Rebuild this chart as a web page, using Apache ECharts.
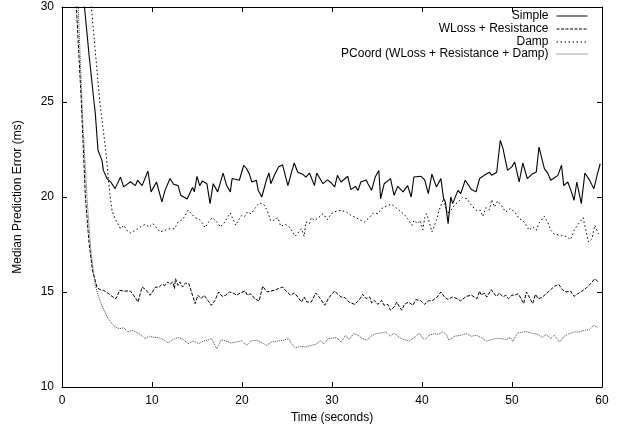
<!DOCTYPE html>
<html><head><meta charset="utf-8">
<script src="https://cdn.jsdelivr.net/npm/echarts@6/dist/echarts.min.js"></script>
<style>html,body{margin:0;padding:0;background:#fff}#c{width:621px;height:430px}</style>
</head><body><div id="c"></div>
<script>
const seriesNames = ['Simple', 'WLoss + Resistance', 'Damp', 'PCoord (WLoss + Resistance + Damp)'];
const xTicks = [0, 10, 20, 30, 40, 50, 60];
const yTicks = [10, 15, 20, 25, 30];

const simple = [[2.0,32.5],[2.5,30],[3.0,27.5],[3.56,25],[3.7,24.4],[4.0,22.46],[4.44,21.93],[4.6,21.4],[5.0,20.97],[5.4,20.8],[5.9,20.44],[6.5,21.05],[6.85,20.53],[7.6,20.8],[8.15,20.6],[8.4,20.88],[8.9,20.6],[9.55,21.37],[9.9,20.27],[10.5,20.79],[11.1,19.74],[11.45,20.35],[12.0,20.97],[12.4,20.67],[12.9,20.6],[13.2,20.09],[13.9,19.9],[14.5,20.5],[14.7,20.27],[15.0,21.09],[15.3,20.6],[15.6,20.84],[16.1,20.7],[16.45,19.65],[16.8,20.7],[17.3,20.27],[17.9,21.26],[18.3,20.6],[18.7,20.27],[18.9,20.97],[19.7,20.88],[20.2,21.67],[20.5,21.5],[20.8,21.23],[21.1,20.79],[21.6,20.88],[21.8,20.35],[22.2,20.0],[22.7,20.88],[23.0,21.26],[23.2,20.7],[23.6,21.14],[24.05,21.58],[24.5,21.7],[25.1,20.6],[25.5,21.3],[25.8,21.79],[26.2,21.3],[26.75,21.2],[27.1,21.05],[27.5,21.26],[28.05,20.6],[28.3,21.26],[29.0,20.7],[29.5,20.9],[29.9,20.75],[30.3,20.53],[30.6,21.14],[31.0,20.79],[31.75,21.09],[32.1,20.39],[32.6,20.56],[32.9,20.35],[33.2,20.79],[33.8,20.9],[34.0,20.7],[34.4,20.35],[34.8,21.05],[35.2,21.4],[35.4,19.9],[35.8,20.7],[36.5,20.97],[36.9,20.09],[37.3,20.56],[37.9,20.27],[38.4,20.6],[38.8,20.0],[39.1,21.05],[39.9,21.09],[40.3,20.9],[40.7,20.18],[41.1,21.2],[41.6,20.53],[42.1,20.97],[42.4,19.9],[42.6,19.74],[42.9,18.6],[43.2,20.0],[43.4,19.65],[44.0,20.35],[44.3,20.18],[44.8,20.88],[45.5,20.39],[46.0,20.27],[46.4,20.97],[46.9,21.14],[47.5,21.3],[47.75,21.14],[48.3,21.3],[48.7,22.98],[49.0,22.55],[49.5,21.4],[50.0,21.6],[50.3,21.84],[50.8,20.79],[51.2,21.79],[51.7,20.97],[52.3,21.23],[52.7,21.32],[53.0,22.63],[53.6,21.49],[54.0,21.23],[54.3,20.88],[54.6,20.97],[55.1,21.14],[55.5,21.67],[55.75,20.6],[56.2,20.79],[56.6,20.27],[56.9,19.83],[57.2,20.79],[57.7,19.65],[58.1,21.26],[58.6,20.9],[59.1,20.44],[59.5,21.23],[59.8,21.75]];

const wloss = [[1.2,33],[1.6,30],[2.15,25],[2.6,20],[3.0,17.6],[3.4,16.1],[3.9,15.23],[4.26,15.12],[4.6,15.09],[5.2,14.91],[5.55,14.77],[6.0,14.65],[6.4,15.09],[6.85,15.05],[7.6,15.05],[7.96,14.83],[8.45,14.47],[8.9,15.26],[9.3,15.12],[9.8,14.83],[10.0,14.91],[10.4,15.26],[10.8,15.26],[11.1,15.4],[11.45,15.35],[11.75,15.53],[12.0,15.4],[12.3,15.53],[12.5,15.18],[12.6,15.7],[12.9,15.35],[13.1,15.53],[13.4,15.26],[13.7,15.47],[14.1,15.44],[14.5,14.83],[14.8,14.39],[15.1,14.83],[15.45,14.65],[15.8,14.83],[16.2,14.56],[16.6,14.3],[17.0,14.56],[17.4,15.0],[17.8,14.77],[18.2,14.83],[18.6,15.0],[19.0,14.95],[19.4,14.83],[19.8,14.95],[20.35,15.05],[20.6,14.83],[21.0,14.91],[21.4,14.65],[21.9,14.53],[22.3,15.3],[22.8,15.0],[23.2,15.05],[23.6,15.09],[24.05,15.18],[24.5,15.26],[24.9,15.05],[25.4,14.83],[25.8,14.95],[26.2,14.74],[26.6,14.47],[26.9,14.74],[27.2,14.47],[27.7,14.47],[28.2,14.95],[28.7,14.65],[29.2,14.3],[29.6,14.65],[29.9,14.85],[30.3,15.05],[30.6,14.91],[31.0,14.74],[31.45,14.7],[31.9,14.47],[32.5,14.35],[33.0,14.56],[33.4,14.88],[33.8,14.65],[34.2,14.74],[34.4,14.42],[34.7,14.56],[35.1,14.35],[35.5,14.56],[35.8,14.3],[36.2,14.35],[36.5,14.04],[36.9,14.21],[37.2,14.47],[37.5,14.21],[37.75,14.04],[38.05,14.35],[38.5,14.47],[39.0,14.3],[39.3,14.6],[39.8,14.56],[40.3,14.35],[40.7,14.53],[41.2,14.56],[41.7,14.74],[42.1,15.0],[42.5,14.74],[42.9,14.6],[43.4,14.74],[43.9,14.65],[44.3,14.53],[44.9,14.77],[45.5,14.83],[45.8,14.74],[46.1,14.65],[46.4,15.05],[46.6,14.83],[46.9,14.95],[47.2,14.74],[47.7,15.12],[48.0,14.91],[48.3,14.77],[48.6,14.95],[49.0,14.74],[49.3,14.83],[49.6,14.65],[50.0,14.83],[50.3,14.83],[50.7,14.91],[51.0,14.65],[51.3,14.39],[51.6,15.0],[51.9,14.74],[52.3,14.39],[52.6,14.88],[52.9,14.65],[53.3,14.7],[53.8,14.91],[54.3,15.12],[54.7,15.3],[55.2,15.4],[55.6,15.12],[56.0,15.0],[56.5,15.05],[56.9,14.77],[57.3,14.91],[57.9,15.09],[58.3,15.23],[58.8,15.47],[59.2,15.7],[59.6,15.53]];

const damp = [[2.8,33],[3.26,30],[4.2,25],[4.86,22.46],[5.3,20.2],[5.55,19.3],[5.9,18.86],[6.5,18.33],[6.85,18.51],[7.2,18.25],[7.6,18.11],[8.15,18.25],[8.7,18.42],[9.25,18.56],[9.7,18.42],[10.1,18.6],[10.3,18.63],[10.6,18.33],[10.9,18.16],[11.45,18.25],[12.0,18.33],[12.5,18.33],[12.9,18.69],[13.4,18.81],[13.7,19.04],[14.0,19.3],[14.3,19.16],[14.8,18.91],[15.3,18.81],[15.9,18.39],[16.3,18.69],[16.7,18.91],[17.2,18.69],[17.6,18.42],[18.1,18.69],[18.7,19.16],[18.9,19.21],[19.3,18.51],[19.7,18.86],[20.0,19.04],[20.3,18.98],[20.6,19.21],[21.0,19.12],[21.5,19.44],[21.9,19.68],[22.4,19.62],[22.8,19.3],[23.2,18.74],[23.5,18.77],[24.0,18.91],[24.3,18.46],[24.8,18.56],[25.2,18.46],[25.5,18.25],[25.9,17.93],[26.3,18.16],[26.6,18.33],[26.9,17.93],[27.1,18.69],[27.5,18.6],[27.7,18.91],[28.05,18.77],[28.5,18.91],[29.0,19.12],[29.5,18.81],[29.9,19.12],[30.5,19.26],[31.0,19.3],[31.6,19.21],[32.1,19.04],[32.7,18.91],[33.2,18.77],[33.6,18.69],[34.2,18.95],[34.6,19.16],[35.1,19.12],[35.5,19.39],[36.0,19.51],[36.6,19.62],[37.1,19.44],[37.7,19.21],[38.1,19.04],[38.4,18.86],[38.9,18.51],[39.1,18.77],[39.5,18.6],[39.8,18.77],[40.1,18.28],[40.3,18.91],[40.5,19.12],[40.7,18.86],[41.1,18.16],[41.6,18.77],[41.9,19.3],[42.4,19.91],[42.8,19.12],[43.2,19.3],[43.6,19.56],[44.0,19.74],[44.5,19.97],[45.0,19.91],[45.5,19.56],[46.0,19.3],[46.5,19.3],[46.75,18.98],[47.1,19.44],[47.5,19.33],[47.75,19.86],[48.05,19.47],[48.4,19.79],[48.8,19.56],[49.3,19.21],[49.8,19.39],[50.3,19.21],[50.8,18.86],[51.2,18.77],[51.5,18.56],[51.9,18.25],[52.3,18.42],[52.7,18.25],[53.0,18.63],[53.6,18.98],[54.0,18.63],[54.3,18.25],[54.7,18.04],[55.5,17.98],[56.0,17.93],[56.5,17.76],[56.9,18.25],[57.4,18.6],[57.9,18.91],[58.2,18.25],[58.5,17.63],[58.9,17.81],[59.2,18.51],[59.6,18.07],[59.8,18.16]];

const pcoord = [[1.4,33],[1.8,30],[2.3,24],[2.8,19.8],[3.2,17.2],[3.7,15.35],[4.07,14.74],[4.5,14.21],[5.0,13.7],[5.55,13.33],[5.9,13.16],[6.4,13.07],[6.85,13.12],[7.33,12.9],[7.8,12.98],[8.2,12.9],[8.7,12.77],[9.25,12.55],[9.7,12.67],[10.0,12.63],[10.7,12.6],[11.3,12.49],[11.8,12.32],[12.3,12.49],[12.9,12.6],[13.5,12.49],[14.0,12.28],[14.6,12.42],[15.2,12.28],[15.7,12.42],[16.3,12.49],[16.6,12.55],[17.2,12.02],[17.7,12.49],[18.2,12.42],[18.8,12.32],[19.4,12.37],[20.0,12.44],[20.5,12.19],[21.0,12.42],[21.6,12.46],[22.1,12.37],[22.7,12.19],[23.3,12.37],[24.0,12.42],[24.6,12.46],[25.2,12.55],[25.5,12.28],[25.9,12.07],[26.5,12.14],[27.1,12.11],[27.7,12.19],[28.2,12.25],[28.7,12.42],[29.1,12.28],[29.6,12.55],[30.0,12.57],[30.5,12.6],[31.0,12.37],[31.5,12.72],[31.9,12.49],[32.4,12.81],[32.9,12.72],[33.4,12.55],[33.9,12.46],[34.3,12.67],[34.9,12.81],[35.5,12.84],[36.0,12.9],[36.5,12.67],[36.9,12.84],[37.5,12.6],[38.0,12.49],[38.6,12.42],[39.2,12.63],[39.7,12.84],[40.0,12.6],[40.3,12.49],[40.8,12.72],[41.4,12.81],[41.8,12.77],[42.3,12.9],[42.7,12.77],[43.0,12.46],[43.6,12.67],[44.3,12.72],[44.9,12.81],[45.5,12.67],[46.0,12.72],[46.6,12.6],[47.1,12.42],[47.7,12.49],[48.2,12.55],[48.8,12.55],[49.3,12.49],[49.8,12.6],[50.1,12.4],[50.6,12.84],[51.2,12.9],[51.75,12.9],[52.3,12.81],[52.9,12.77],[53.3,12.6],[53.8,12.77],[54.3,12.55],[54.7,12.72],[55.3,12.37],[55.8,12.67],[56.4,12.81],[56.9,12.9],[57.5,12.9],[58.0,12.98],[58.6,13.02],[59.1,13.25],[59.5,13.12]];

const FONT = 'Liberation Sans, Arial, Helvetica, sans-serif';
const chart = echarts.init(document.getElementById('c'), null, {renderer: 'canvas'});

const xMin = xTicks[0], xMax = xTicks[xTicks.length - 1], xStep = xTicks[1] - xTicks[0];
const yMin = yTicks[0], yMax = yTicks[yTicks.length - 1], yStep = yTicks[1] - yTicks[0];

function axisBase(showLabel) {
  return {
    axisLine: {show: true, onZero: false, lineStyle: {color: '#000', width: 1}},
    axisTick: {show: true, inside: true, length: 5, lineStyle: {color: '#000', width: 1}},
    splitLine: {show: false},
    axisLabel: {show: showLabel, color: '#000', fontFamily: FONT, fontSize: 12, margin: 8}
  };
}

const styles = [
  {color: '#000', width: 1.1, type: 'solid'},
  {color: '#000', width: 1, type: [3.5, 1.5]},
  {color: '#000', width: 1, type: [1.5, 2.5]},
  {color: '#444', width: 1, type: [1, 1]}
];
const legendDash = ['solid', [3, 1.5], [1.5, 2.5], [1, 1]];
const datas = [simple, wloss, damp, pcoord];
const rowCenters = [16, 29, 42, 54];

const legends = seriesNames.map((n, i) => ({
  data: [n],
  orient: 'horizontal',
  align: 'right',
  right: 33,
  top: rowCenters[i] - 6,
  padding: 0,
  itemWidth: 31,
  itemHeight: 11,
  selectedMode: false,
  itemStyle: {opacity: 0, borderWidth: 0},
  lineStyle: {width: 1, type: legendDash[i], color: styles[i].color},
  textStyle: {color: '#000', fontFamily: FONT, fontSize: 12, padding: [0, 3, 0, 0]}
}));

chart.setOption({
  animation: false,
  backgroundColor: '#fff',
  grid: {left: 62, right: 19, top: 7, bottom: 43, containLabel: false},
  legend: legends,
  xAxis: [
    Object.assign(axisBase(true), {type: 'value', min: xMin, max: xMax, interval: xStep, position: 'bottom',
      name: 'Time (seconds)', nameLocation: 'middle', nameGap: 24,
      nameTextStyle: {color: '#000', fontFamily: FONT, fontSize: 12}}),
    Object.assign(axisBase(false), {type: 'value', min: xMin, max: xMax, interval: xStep, position: 'top'})
  ],
  yAxis: [
    Object.assign(axisBase(true), {type: 'value', min: yMin, max: yMax, interval: yStep, position: 'left',
      name: 'Median Prediction Error (ms)', nameLocation: 'middle', nameGap: 38,
      nameTextStyle: {color: '#000', fontFamily: FONT, fontSize: 12}}),
    Object.assign(axisBase(false), {type: 'value', min: yMin, max: yMax, interval: yStep, position: 'right'})
  ],
  series: seriesNames.map((n, i) => ({
    name: n,
    type: 'line',
    xAxisIndex: 0,
    yAxisIndex: 0,
    data: datas[i],
    symbol: 'none',
    showSymbol: false,
    clip: true,
    color: styles[i].color,
    lineStyle: styles[i]
  }))
});
</script>
</body></html>
